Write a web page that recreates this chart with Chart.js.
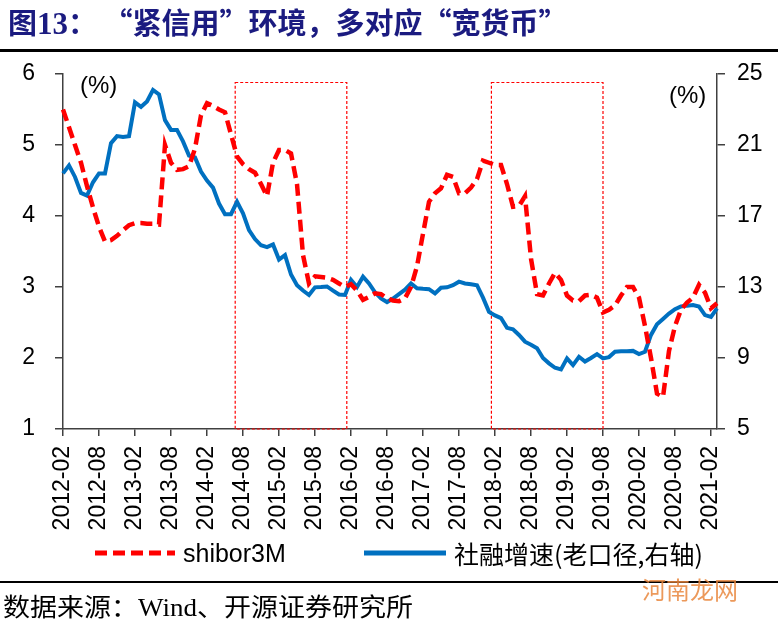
<!DOCTYPE html>
<html>
<head>
<meta charset="utf-8">
<script src="https://cdn.jsdelivr.net/npm/chart.js@4.4.1/dist/chart.umd.min.js"></script>
<style>
  body { margin: 0; background: #fff; }
  #wrap { position: relative; width: 778px; height: 622px; overflow: hidden; font-family: "Liberation Sans", Arial, sans-serif; }
  #chart { position: absolute; left: 0; top: 0; }
  .abs { position: absolute; white-space: nowrap; }
  #title { left: 8px; top: 0px; font: bold 29px "Noto Sans CJK SC", sans-serif; color: #1b1b80; }
  #title .num { font-family: "Liberation Serif", serif; font-size: 31px; }
  .rule { position: absolute; left: 0; width: 778px; background: #000; }
  .pct { font-size: 24px; color: #000; }
  .leg { font-size: 25px; color: #000; top: 539px; }
  #src { left: 3px; top: 587px; font: 25px "Liberation Serif", "Noto Sans CJK SC", serif; color: #000; transform-origin: left top; transform: scaleX(1.08); }
  #wm { left: 642px; top: 571px; font: 24px "Noto Sans CJK SC", sans-serif; color: #e9883f; opacity: 0.85; }
</style>
</head>
<body>
<div id="wrap">
  <canvas id="chart" width="778" height="622"></canvas>
  <div id="title" class="abs">图<span class="num">13</span>：&nbsp;“紧信用”环境，多对应“宽货币”</div>
  <div class="rule" style="top:49px;height:3px"></div>
  <div class="abs pct" style="left:80px;top:71px">(%)</div>
  <div class="abs pct" style="left:669px;top:81px">(%)</div>
  <svg class="abs" style="left:93px;top:547px" width="84" height="12">
    <line x1="2" y1="6" x2="82" y2="6" stroke="#ff0000" stroke-width="5" stroke-dasharray="12,6"/>
  </svg>
  <div class="abs leg" style="left:183px">shibor3M</div>
  <svg class="abs" style="left:364px;top:547px" width="82" height="12">
    <line x1="0" y1="6" x2="82" y2="6" stroke="#0070c0" stroke-width="5"/>
  </svg>
  <div class="abs leg" style="left:454px;font-family:'Noto Sans CJK SC',sans-serif;top:535px">社融增速(老口径,右轴)</div>
  <div class="rule" style="top:581px;height:2px"></div>
  <div id="src" class="abs">数据来源：Wind、开源证券研究所</div>
  <div id="wm" class="abs">河南龙网</div>
</div>
<script>
// month categories 2012-02 .. 2021-03
const months = [];
for (let y = 2012, m = 2; months.length < 110; m++) {
  if (m > 12) { m = 1; y++; }
  months.push(y + "-" + String(m).padStart(2, "0"));
}

const tickLabels = ["2012-02","2012-08","2013-02","2013-08","2014-02","2014-08","2015-02","2015-08",
  "2016-02","2016-08","2017-02","2017-08","2018-02","2018-08","2019-02","2019-08","2020-02","2020-08","2021-02"];

// shibor 3M, left axis (%)
const shibor3M = [
  5.50, 5.25, 5.00, 4.75, 4.42, 4.12, 3.85, 3.64, 3.66, 3.72,
  3.80, 3.87, 3.90, 3.90, 3.89, 3.89, 3.88, 5.00, 4.75, 4.65,
  4.66, 4.70, 4.95, 5.42, 5.59, 5.55, 5.50, 5.46, 5.15, 4.84,
  4.73, 4.66, 4.61, 4.45, 4.28, 4.75, 4.93, 4.93, 4.88, 4.45,
  3.45, 3.05, 3.15, 3.14, 3.13, 3.10, 3.05, 3.00, 3.04, 2.95,
  2.82, 2.86, 2.91, 2.90, 2.84, 2.81, 2.80, 2.84, 3.00, 3.29,
  3.75, 4.20, 4.32, 4.39, 4.58, 4.55, 4.32, 4.32, 4.40, 4.52,
  4.78, 4.75, 4.72, 4.72, 4.45, 4.13, 4.14, 4.28, 3.40, 2.90,
  2.88, 3.05, 3.20, 3.10, 2.88, 2.81, 2.80, 2.88, 2.89, 2.85,
  2.64, 2.68, 2.74, 2.88, 3.00, 3.00, 2.85, 2.45, 2.00, 1.50,
  1.45, 2.10, 2.45, 2.68, 2.78, 2.85, 3.03, 2.92, 2.70, 2.77
];

// social financing growth (old basis), right axis (%)
const tsfGrowth = [
  19.4, 19.85, 19.2, 18.3, 18.15, 18.9, 19.4, 19.4, 21.1, 21.5,
  21.45, 21.5, 23.4, 23.15, 23.45, 24.1, 23.85, 22.4, 21.85, 21.85,
  21.2, 20.4, 20.3, 19.5, 19.0, 18.6, 17.7, 17.1, 17.1, 17.8,
  17.15, 16.2, 15.7, 15.35, 15.25, 15.4, 14.55, 14.8, 13.7, 13.1,
  12.8, 12.55, 12.98, 13.0, 13.03, 12.8, 12.58, 12.55, 13.4, 13.0,
  13.58, 13.2, 12.7, 12.35, 12.15, 12.35, 12.6, 12.85, 13.2, 12.93,
  12.9, 12.88, 12.64, 12.96, 12.98, 13.1, 13.3, 13.2, 13.15, 13.1,
  12.4, 11.6, 11.4, 11.25, 10.7, 10.62, 10.3, 9.92, 9.75, 9.55,
  9.0, 8.7, 8.45, 8.36, 8.98, 8.6, 9.07, 8.8, 9.0, 9.22,
  8.98, 9.05, 9.35, 9.38, 9.38, 9.40, 9.22, 9.35, 10.3, 10.9,
  11.2, 11.5, 11.75, 11.9, 11.95, 11.98, 11.9, 11.42, 11.32, 11.8
];

const leftTicks = [1, 6];
const rightTicks = [5, 25];

// highlighted periods: month index from/to, top in left-axis units
const boxStarts = [28.7, 71.4];
const boxEnds = [47.3, 90.0];
const boxTop = 5.88;

const boxPlugin = {
  id: "boxes",
  beforeDatasetsDraw(chart) {
    const { ctx, scales: { x, y } } = chart;
    ctx.save();
    ctx.strokeStyle = "#ff0000";
    ctx.lineWidth = 1.2;
    ctx.setLineDash([3, 2]);
    boxStarts.forEach((s, i) => {
      const x0 = x.getPixelForValue(s), x1 = x.getPixelForValue(boxEnds[i]);
      const y0 = y.getPixelForValue(boxTop), y1 = y.getPixelForValue(leftTicks[0]);
      ctx.strokeRect(x0, y0, x1 - x0, y1 - y0);
    });
    ctx.restore();
  }
};

const axisColor = "#404040";
const tickFont = { family: "'Liberation Sans', Arial, sans-serif", size: 23 };

new Chart(document.getElementById("chart"), {
  type: "line",
  data: {
    labels: months,
    datasets: [{
      label: "shibor3M",
      data: shibor3M,
      yAxisID: "y",
      borderColor: "#ff0000",
      borderWidth: 4.5,
      borderDash: [12, 6],
      pointRadius: 0,
      tension: 0
    }, {
      label: "社融增速(老口径,右轴)",
      data: tsfGrowth,
      yAxisID: "y1",
      borderColor: "#0070c0",
      borderWidth: 4,
      pointRadius: 0,
      tension: 0
    }]
  },
  options: {
    responsive: false,
    animation: false,
    devicePixelRatio: 1,
    layout: { padding: { top: 74, left: 0, right: 0, bottom: 0 } },
    plugins: { legend: { display: false }, tooltip: { enabled: false } },
    scales: {
      x: {
        type: "category",
        offset: false,
        grid: { drawOnChartArea: false, tickLength: 7, color: axisColor, lineWidth: 1.5 },
        border: { color: axisColor, width: 1.5 },
        ticks: {
          autoSkip: false, maxRotation: 90, minRotation: 90, padding: 10,
          color: "#000", font: tickFont,
          callback: (v, i) => tickLabels.includes(months[i]) ? months[i] : null
        },
        afterFit: s => { s.height = 622 - 429; }
      },
      y: {
        position: "left", min: leftTicks[0], max: leftTicks[1],
        grid: { drawOnChartArea: false, tickLength: 8, color: axisColor, lineWidth: 1.5 },
        border: { color: axisColor, width: 1.5 },
        ticks: { stepSize: 1, padding: 20, color: "#000", font: tickFont },
        afterFit: s => { s.width = 63; }
      },
      y1: {
        position: "right", min: rightTicks[0], max: rightTicks[1],
        grid: { drawOnChartArea: false, tickLength: 8, color: axisColor, lineWidth: 1.5 },
        border: { color: axisColor, width: 1.5 },
        ticks: { stepSize: 4, padding: 12, color: "#000", font: tickFont },
        afterFit: s => { s.width = 778 - 717; }
      }
    }
  },
  plugins: [boxPlugin]
});
</script>
</body>
</html>
